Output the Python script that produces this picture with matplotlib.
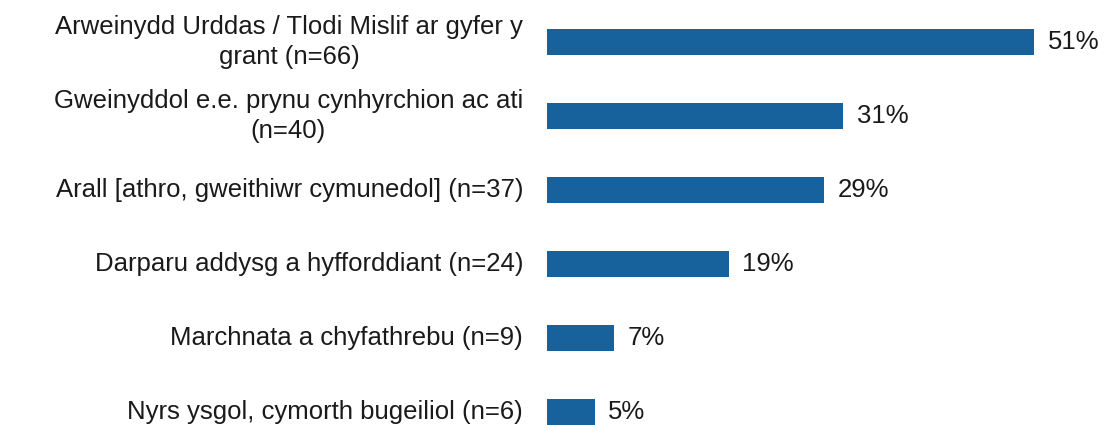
import matplotlib
matplotlib.use("Agg")
import matplotlib.pyplot as plt

categories = [
    "Arweinydd Urddas / Tlodi Mislif ar gyfer y\ngrant (n=66)",
    "Gweinyddol e.e. prynu cynhyrchion ac ati\n(n=40)",
    "Arall [athro, gweithiwr cymunedol] (n=37)",
    "Darparu addysg a hyfforddiant (n=24)",
    "Marchnata a chyfathrebu (n=9)",
    "Nyrs ysgol, cymorth bugeiliol (n=6)",
]
values = [51, 31, 29, 19, 7, 5]
value_labels = ["51%", "31%", "29%", "19%", "7%", "5%"]

plt.rcParams['font.family'] = ['Liberation Sans', 'DejaVu Sans']

fig = plt.figure(figsize=(11.06, 4.25), dpi=100)
ax = fig.add_axes([547 / 1106, 0, 559 / 1106, 1])

ypos = list(range(len(categories)))
ax.barh(ypos, values, height=0.36, color='#17619C')

ax.set_xlim(0, 58.5)
ax.set_ylim(5.176, -0.568)

for y, v, lab in zip(ypos, values, value_labels):
    ax.text(v + 1.4, y, lab, ha='left', va='center', fontsize=18.5, color='#1a1a1a')

for y, cat in zip(ypos, categories):
    ax.text(-2.5, y, cat, ha='right', va='center', multialignment='center',
            fontsize=18.5, linespacing=1.3, color='#1a1a1a', clip_on=False)

ax.axis('off')

fig.savefig("out.png", dpi=100)
